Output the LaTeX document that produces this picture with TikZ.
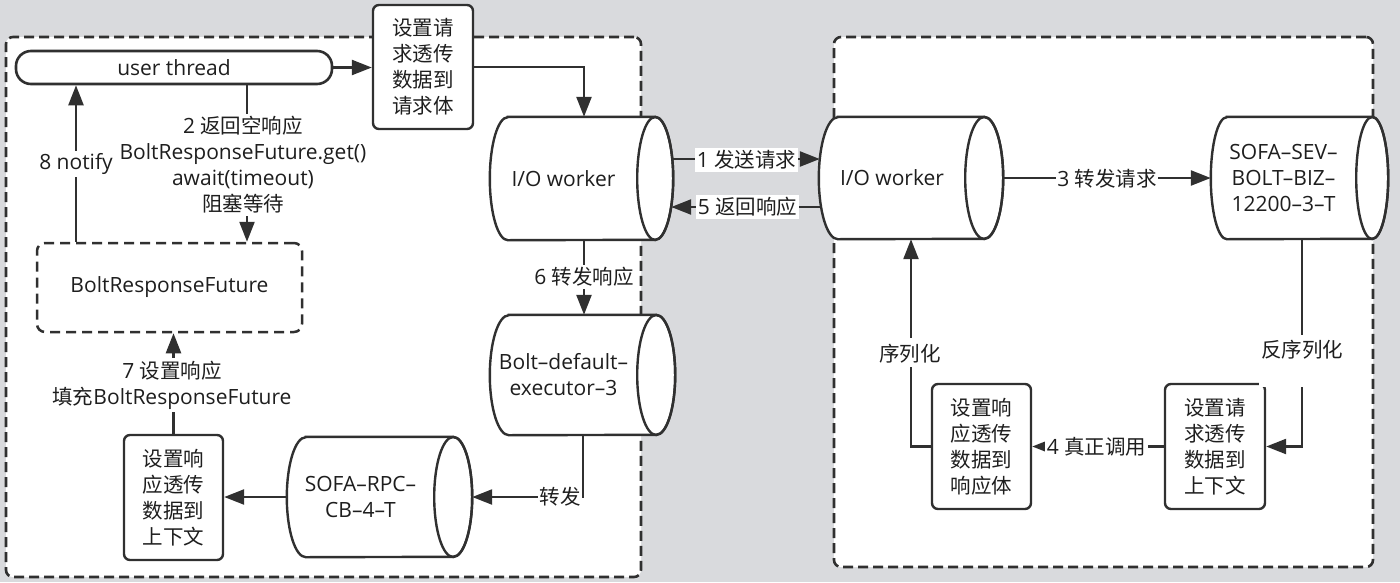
\documentclass[tikz,border=0pt]{standalone}
\usepackage{fontspec}
\setmainfont{Open Sans}
\newfontfamily\cjk{Noto Sans CJK SC}
\usetikzlibrary{arrows.meta,calc}
\pgfdeclarelayer{back}
\pgfdeclarelayer{mid}
\pgfsetlayers{back,mid,main}
\definecolor{bggray}{HTML}{D9DADD}
\definecolor{linec}{HTML}{303030}
\definecolor{txtc}{HTML}{1E1E1E}
\newcommand\zh[1]{{\cjk\fontsize{20.5}{26}\selectfont #1}}
\tikzset{
  latinfont/.style={font=\fontsize{21}{26}\selectfont},
  zhfont/.style={font=\cjk\fontsize{20.5}{26}\selectfont},
  ln/.style={draw=linec, line width=2.4pt},
  arr/.style={ln, -{Triangle[length=20pt,width=15pt]}},
  panel/.style={draw=linec, line width=2.6pt, dash pattern=on 10pt off 5pt, fill=white, rounded corners=7pt, inner sep=0pt},
  box/.style={draw=linec, line width=2.4pt, fill=white, rounded corners=6pt, inner sep=0pt, align=center, text=txtc, zhfont},
  pill/.style={draw=linec, line width=2.6pt, fill=white, rounded corners=15pt, inner sep=0pt, text=txtc, latinfont},
  dbox/.style={draw=linec, line width=2.5pt, dash pattern=on 10pt off 6pt, fill=white, rounded corners=8pt, inner sep=0pt, text=txtc, latinfont},
  cylbody/.style={inner sep=0pt, align=center, text=txtc, latinfont},
  lbl/.style={fill=white, inner xsep=1.5pt, inner ysep=2.5pt, align=center, text=txtc, latinfont},
  gaplbl/.style={fill=white, inner xsep=2pt, inner ysep=0pt, anchor=base, text=txtc, zhfont},
}
\begin{document}
\begin{tikzpicture}[x=1pt,y=-1pt]
\useasboundingbox (0,0) rectangle (1400,582);
\begin{pgfonlayer}{back}
  \fill[bggray] (0,0) rectangle (1400,582);
  \node[panel, minimum width=635pt, minimum height=540pt] (lp) at (323.5,307) {};
  \node[panel, minimum width=539pt, minimum height=530pt] (rp) at (1103.5,302) {};
\end{pgfonlayer}

% nodes
\node[pill, minimum width=316pt, minimum height=33pt] (ut) at (174,67.5) {user thread};
\node[box, minimum width=100pt, minimum height=124pt] (reqA) at (423,67) {设置请\\求透传\\数据到\\请求体};
\node[cylbody, minimum width=147pt, minimum height=123pt] (io1) at (563.5,178.5) {I/O worker};
\node[cylbody, minimum width=146pt, minimum height=122pt] (io2) at (892,178) {I/O worker};
\node[cylbody, minimum width=145pt, minimum height=122pt] (sev) at (1283.5,178) {SOFA–SEV–\\BOLT–BIZ–\\12200–3–T};
\node[cylbody, minimum width=147pt, minimum height=120pt] (bolt) at (563.5,375) {Bolt–default–\\executor–3};
\node[cylbody, minimum width=147pt, minimum height=120pt] (rpc) at (360.5,497) {SOFA–RPC–\\CB–4–T};
\node[dbox, minimum width=265pt, minimum height=89pt] (brf) at (169.5,287.5) {BoltResponseFuture};
\node[box, minimum width=99pt, minimum height=125pt] (rspE) at (173.5,497.5) {设置响\\应透传\\数据到\\上下文};
\node[box, minimum width=99pt, minimum height=125pt] (rspC) at (981.5,446.5) {设置响\\应透传\\数据到\\响应体};
\node[box, minimum width=100pt, minimum height=125pt] (reqD) at (1215,446.5) {设置请\\求透传\\数据到\\上下文};

% cylinder outlines
\begin{pgfonlayer}{mid}
\foreach \nm/\rx/\ry in {io1/18/61.5, io2/19/61, sev/16/61, bolt/19/60, rpc/19/60}{
  \draw[ln, fill=white] ($(\nm.north west)+(\rx,0)$) -- ($(\nm.north east)+(\rx,0)$)
     arc[start angle=90, end angle=-90, x radius=\rx pt, y radius=\ry pt]
     -- ($(\nm.south west)+(\rx,0)$)
     arc[start angle=270, end angle=90, x radius=\rx pt, y radius=\ry pt] -- cycle;
  \draw[ln] ($(\nm.east)+(\rx,0)$) ellipse[x radius=\rx pt, y radius=\ry pt];
}
\end{pgfonlayer}

% connectors
\draw[arr] (ut.east) -- (ut.east -| reqA.west);
\draw[arr] (reqA.east) -| ($(io1.north)+(20.5,0)$);
\draw[arr] ($(io1.east)+(35,-19.5)$) -- ($(io2.west)+(1,-19)$);
\draw[arr] ($(io2.west)+(2,29)$) -- ($(io1.east)+(34,28.5)$);
\draw[arr] ($(io2.east)+(38,0)$) -- (sev.west);
\draw[arr] ($(sev.south)+(18.5,0)$) |- (reqD.east);
\draw[arr] (reqD.west) -- (rspC.east);
\draw[arr] (rspC.west) -| ($(io2.south)+(19,0)$);
\draw[arr] ($(io1.south)+(20.5,0)$) -- ($(bolt.north)+(20.5,0)$);
\draw[arr] ($(bolt.south)+(19.5,0)$) |- ($(rpc.east)+(38,0)$);
\draw[arr] (rpc.west) -- (rpc.west -| rspE.east);
\draw[arr] (rspE.north) -- (rspE.north |- brf.south);
\draw[arr] ($(brf.north)+(-93.5,0)$) -- ($(ut.south)+(-98,0)$);
\draw[arr] ($(ut.south)+(73,0)$) -- ($(brf.north)+(77.5,0)$);

% labels
\node[lbl] (l1) at (746.5,160) {1 \zh{发送请求}};
\node[lbl] (l5) at (747.5,207) {5 \zh{返回响应}};
\node[lbl] (l3) at (1107,179) {3 \zh{转发请求}};
\node[lbl] (l4) at (1096.5,446.5) {4 \zh{真正调用}};
\node[gaplbl, text height=23pt, text depth=29pt] (lfx) at (1302,357.8) {反序列化};
\node[gaplbl, text height=24pt, text depth=5pt] (lxl) at (910,361.8) {序列化};
\node[lbl] (l6) at (584,277) {6 \zh{转发响应}};
\node[lbl] (lzf) at (560,497) {\zh{转发}};
\node[lbl] (l7) at (172,385) {7 \zh{设置响应}\\\zh{填充}BoltResponseFuture};
\node[lbl] (l8) at (76,164) {8 notify};
\node[lbl] (l2) at (243,165) {2 \zh{返回空响应}\\BoltResponseFuture.get()\\await(timeout)\\\zh{阻塞等待}};
\end{tikzpicture}
\end{document}
